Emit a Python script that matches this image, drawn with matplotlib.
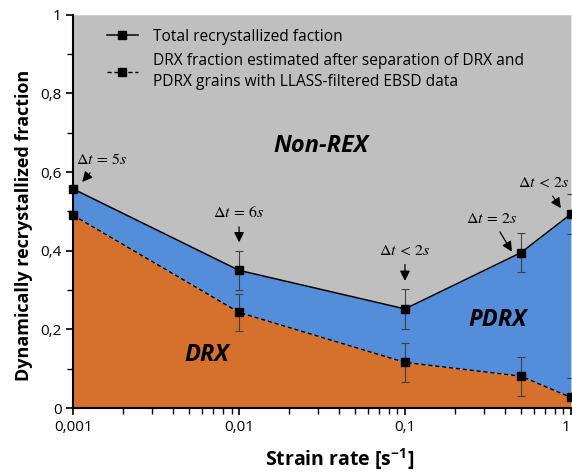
import numpy as np
import matplotlib
matplotlib.use('Agg')
import matplotlib.pyplot as plt
from matplotlib.ticker import FixedLocator, NullFormatter, LogLocator
from matplotlib.transforms import offset_copy

plt.rcParams['font.family'] = ['Open Sans', 'DejaVu Sans']
plt.rcParams['mathtext.fontset'] = 'custom'
plt.rcParams['mathtext.rm'] = 'STIXGeneral'
plt.rcParams['mathtext.it'] = 'STIXGeneral:italic'
plt.rcParams['mathtext.bf'] = 'Open Sans:bold'
plt.rcParams['mathtext.fallback'] = 'stix'

# Data
strain_rate = [0.001, 0.01, 0.1, 0.5, 1.0]
total_rex = [0.557, 0.350, 0.252, 0.395, 0.493]
total_err = [0.0, 0.05, 0.05, 0.05, 0.05]
drx = [0.490, 0.243, 0.116, 0.081, 0.027]
drx_err = [0.0, 0.048, 0.05, 0.05, 0.05]

dt_labels = [r'$\Delta t\,=\,5s$', r'$\Delta t\,=\,6s$', r'$\Delta t\,<\,2s$',
             r'$\Delta t\,=\,2s$', r'$\Delta t\,<\,2s$']

x_ticks = [0.001, 0.01, 0.1, 1]
x_ticklabels = ['0,001', '0,01', '0,1', '1']
y_ticks = [0, 0.2, 0.4, 0.6, 0.8, 1]
y_ticklabels = ['0', '0,2', '0,4', '0,6', '0,8', '1']

c_gray = '#bfbfbf'
c_blue = '#548dd9'
c_orange = '#d5702d'

fig = plt.figure(figsize=(5.72, 4.75), dpi=100)
ax = fig.add_axes([0.128, 0.141, 0.870, 0.828])
ax.set_xscale('log')
ax.set_xlim(0.001, 1)
ax.set_ylim(0, 1)

# filled regions
ax.fill_between(strain_rate, total_rex, 1, color=c_gray, lw=0)
ax.fill_between(strain_rate, drx, total_rex, color=c_blue, lw=0)
ax.fill_between(strain_rate, 0, drx, color=c_orange, lw=0)

# error bars
ax.errorbar(strain_rate[1:], total_rex[1:], yerr=total_err[1:], fmt='none',
            ecolor='#404040', elinewidth=0.8, capsize=3, capthick=0.8)
ax.errorbar(strain_rate[1:], drx[1:], yerr=drx_err[1:], fmt='none',
            ecolor='#404040', elinewidth=0.8, capsize=3, capthick=0.8)

# lines
ax.plot(strain_rate, total_rex, '-', color='black', lw=1.1, marker='s',
        ms=5.5, mfc='black', mec='black', clip_on=False, zorder=5,
        label='Total recrystallized faction')
ax.plot(strain_rate, drx, '--', color='black', lw=1.0, marker='s',
        ms=5.5, mfc='black', mec='black', clip_on=False, zorder=5,
        dashes=(3, 2),
        label='DRX fraction estimated after separation of DRX and\nPDRX grains with LLASS-filtered EBSD data')

# annotations: arrow tip offset from marker, text offset from tip (pixels)
tip_offsets = [(9, 7), (0, 28), (0, 28), (-9, 1), (-10, 6)]
text_offsets = [(19, 22), (0, 29), (0, 30), (-20, 33), (-17, 25)]
for xv, yv, lab, tip, toff in zip(strain_rate, total_rex, dt_labels, tip_offsets, text_offsets):
    tr = offset_copy(ax.transData, fig=fig, x=tip[0], y=tip[1], units='dots')
    ax.annotate(lab, xy=(xv, yv), xycoords=tr, xytext=toff, textcoords='offset pixels',
                ha='center', va='center', fontsize=11.5,
                arrowprops=dict(arrowstyle='-|>', color='black', lw=0.9,
                                mutation_scale=15, shrinkA=2, shrinkB=0))

# region labels
ax.text(0.031, 0.665, 'Non-REX', fontsize=17, fontweight='bold', style='italic',
        ha='center', va='center')
ax.text(0.0064, 0.135, 'DRX', fontsize=17, fontweight='bold', style='italic',
        ha='center', va='center')
ax.text(0.36, 0.224, 'PDRX', fontsize=17, fontweight='bold', style='italic',
        ha='center', va='center')

leg = ax.legend(loc='upper left', bbox_to_anchor=(0.055, 0.98), frameon=False,
                fontsize=11.2, handlelength=2.0, handletextpad=1.0,
                labelspacing=0.55, borderaxespad=0)
for t in leg.get_texts():
    t.set_linespacing(1.35)

ax.xaxis.set_major_locator(FixedLocator(x_ticks))
ax.set_xticklabels(x_ticklabels)
ax.get_xticklabels()[-1].set_horizontalalignment('right')
ax.xaxis.set_minor_locator(LogLocator(base=10, subs=np.arange(2, 10)))
ax.xaxis.set_minor_formatter(NullFormatter())
ax.set_yticks(y_ticks)
ax.set_yticklabels(y_ticklabels)
ax.set_yticks(np.arange(0.1, 1.0, 0.2), minor=True)

ax.tick_params(axis='both', which='major', direction='out', length=5, width=1.2,
               labelsize=11, color='black')
ax.tick_params(axis='both', which='minor', direction='out', length=4, width=1.0)
for s in ['top', 'right']:
    ax.spines[s].set_visible(False)
for s in ['left', 'bottom']:
    ax.spines[s].set_linewidth(1.5)

ax.set_xlabel(r'Strain rate [s$^{\mathbf{-1}}$]', fontsize=14, fontweight='bold')
ax.set_ylabel('Dynamically recrystallized fraction', fontsize=13, fontweight='bold')
ax.xaxis.set_label_coords(0.536, -0.097)
ax.yaxis.set_label_coords(-0.08, 0.465)

fig.savefig('out.png', dpi=100)
